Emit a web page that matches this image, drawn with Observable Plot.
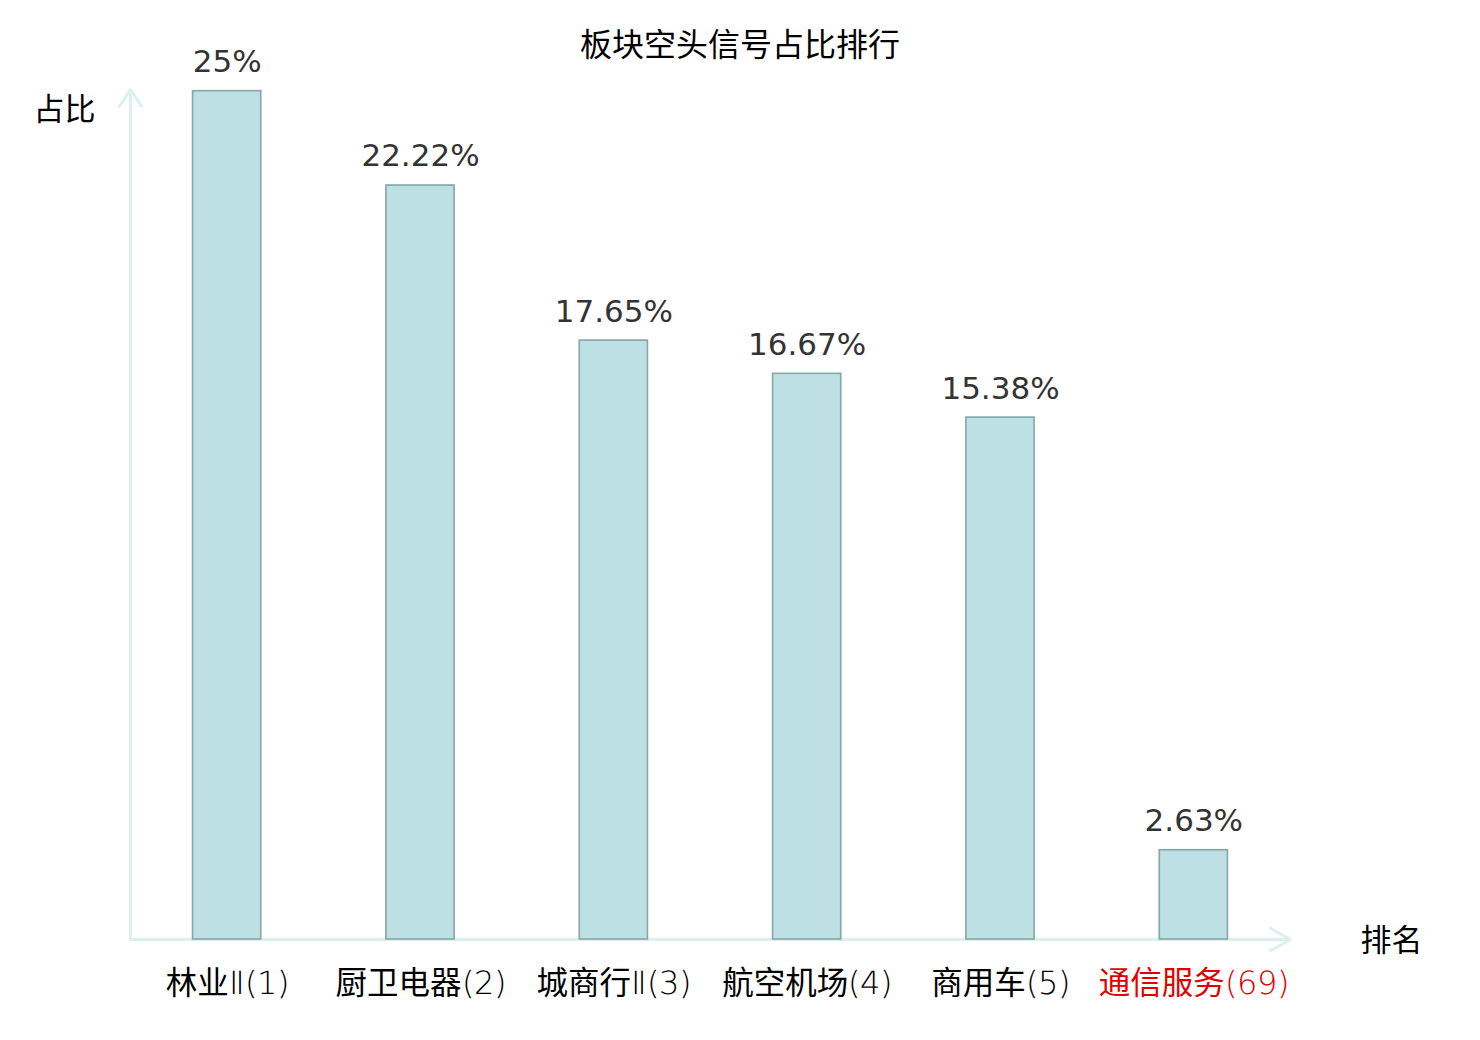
<!DOCTYPE html>
<html>
<head>
<meta charset="utf-8">
<script src="https://cdn.jsdelivr.net/npm/d3@7"></script>
<script src="https://cdn.jsdelivr.net/npm/@observablehq/plot@0.6"></script>
<style>
  @font-face { font-family: "DJLight"; src: local("DejaVu Sans ExtraLight"), local("DejaVuSans-ExtraLight"); }
  html, body { margin: 0; padding: 0; background: #fff; }
  #wrap { position: relative; width: 1480px; height: 1040px; }
  #title { position: absolute; left: 0; right: 0; top: 22px; font-family: "Noto Sans CJK SC", sans-serif; font-size: 32px; line-height: 40px; text-align: center; color: #000; }
</style>
</head>
<body>
<div id="wrap">
<div id="chart"></div>
<div id="title">板块空头信号占比排行</div>
</div>
<script>
const categories = ["林业Ⅱ(1)", "厨卫电器(2)", "城商行Ⅱ(3)", "航空机场(4)", "商用车(5)", "通信服务(69)"];
const values = [25, 22.22, 17.65, 16.67, 15.38, 2.63];
const valueLabels = ["25%", "22.22%", "17.65%", "16.67%", "15.38%", "2.63%"];
const labelColors = ["#000", "#000", "#000", "#000", "#000", "#e00000"];

const data = categories.map((c, i) => ({cat: c, i, v: values[i], label: valueLabels[i], color: labelColors[i]}));
const n = categories.length;
const axisColor = "#daf1ed";
const cjk = "Noto Sans CJK SC";
const tickFont = "DJLight, 'Noto Sans CJK SC'";

const chart = Plot.plot({
  width: 1480,
  height: 1040,
  marginLeft: 130,
  marginRight: 190,
  marginTop: 89,
  marginBottom: 101,
  x: {type: "linear", domain: [0, n], axis: null},
  y: {domain: [0, 25.05], axis: null},
  style: {fontFamily: cjk, background: "#fff"},
  marks: [
    Plot.arrow([{x1: 0, y1: 0, x2: n, y2: 0}], {x1: "x1", y1: "y1", x2: "x2", y2: "y2", stroke: axisColor, strokeWidth: 3, headLength: 11.5, headAngle: 58}),
    Plot.arrow([{x1: 0, y1: 0, x2: 0, y2: 25.05}], {x1: "x1", y1: "y1", x2: "x2", y2: "y2", stroke: axisColor, strokeWidth: 3, headLength: 10, headAngle: 66}),
    Plot.rectY(data, {x1: d => d.i, x2: d => d.i + 1, y1: 0, y2: "v", insetLeft: 62.6, insetRight: 62.6, fill: "#bce0e3", stroke: "#8ba8a8", strokeWidth: 1.7}),
    Plot.text(data, {x: d => d.i + 0.5, y: "v", text: "label", dy: -29, fill: "#333", fontSize: 31, fontFamily: "DejaVu Sans"}),
    Plot.text(data, {x: d => d.i + 0.5, y: 0, text: "cat", dy: 44, fill: "color", fontSize: 31.5, fontFamily: tickFont}),
    Plot.text(["占比"], {frameAnchor: "top-left", textAnchor: "middle", lineAnchor: "middle", dx: -66, dy: 21, fontSize: 31, fill: "#000", fontFamily: cjk}),
    Plot.text(["排名"], {frameAnchor: "bottom-right", textAnchor: "middle", lineAnchor: "middle", dx: 101, dy: 2, fontSize: 31, fill: "#000", fontFamily: cjk})
  ]
});
document.getElementById("chart").appendChild(chart);
</script>
</body>
</html>
